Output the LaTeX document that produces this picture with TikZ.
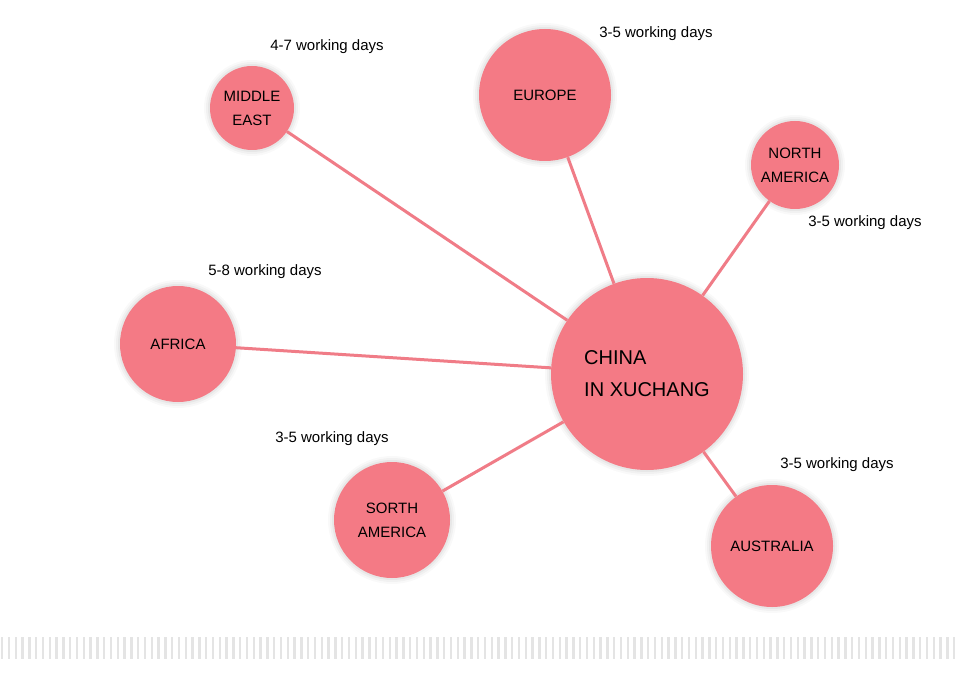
\documentclass[tikz,border=0pt]{standalone}
\usepackage{fontspec}
\setmainfont{Liberation Sans}
\definecolor{blob}{HTML}{F47A85}
\definecolor{link}{HTML}{F07C87}
\definecolor{stripe}{HTML}{E4E4E4}
\tikzset{
  region/.style={circle, fill=blob, inner sep=0pt, align=center,
    font=\fontsize{15}{24}\selectfont,
    preaction={draw=black, draw opacity=0.025, line width=12pt},
    preaction={draw=black, draw opacity=0.03, line width=8pt},
    preaction={draw=black, draw opacity=0.04, line width=4pt}},
  days/.style={font=\fontsize{15}{18}\selectfont, inner sep=0pt},
  conn/.style={draw=link, line width=3pt}
}
\begin{document}
\begin{tikzpicture}[x=1pt,y=-1pt]
\useasboundingbox (0,0) rectangle (960,676);
\fill[white] (0,0) rectangle (960,676);
% stripes
\foreach \i in {0,...,141} {
  \fill[stripe] ({1+\i*6.8},637) rectangle ({3.3+\i*6.8},659);
}
% nodes
\node[region, minimum size=192pt, align=left, font=\fontsize{20}{32}\selectfont] (china) at (647,374) {CHINA\\IN XUCHANG};
\node[region, minimum size=132pt] (europe) at (545,95) {EUROPE};
\node[region, minimum size=84pt] (mideast) at (252,108) {MIDDLE\\EAST};
\node[region, minimum size=88pt] (namerica) at (795,165) {NORTH\\AMERICA};
\node[region, minimum size=116pt] (africa) at (178,344) {AFRICA};
\node[region, minimum size=116pt] (samerica) at (392,520) {SORTH\\AMERICA};
\node[region, minimum size=122pt] (australia) at (772,546) {AUSTRALIA};
% connectors
\draw[conn] (china) -- (europe);
\draw[conn] (china) -- (mideast);
\draw[conn] (china) -- (namerica);
\draw[conn] (china) -- (africa);
\draw[conn] (china) -- (samerica);
\draw[conn] (china) -- (australia);
% labels
\node[days] (l1) at (327,47) {4-7 working days};
\node[days] (l2) at (656,34) {3-5 working days};
\node[days] (l3) at (865,223) {3-5 working days};
\node[days] (l4) at (265,272) {5-8 working days};
\node[days] (l5) at (332,439) {3-5 working days};
\node[days] (l6) at (837,465) {3-5 working days};
\end{tikzpicture}
\end{document}
